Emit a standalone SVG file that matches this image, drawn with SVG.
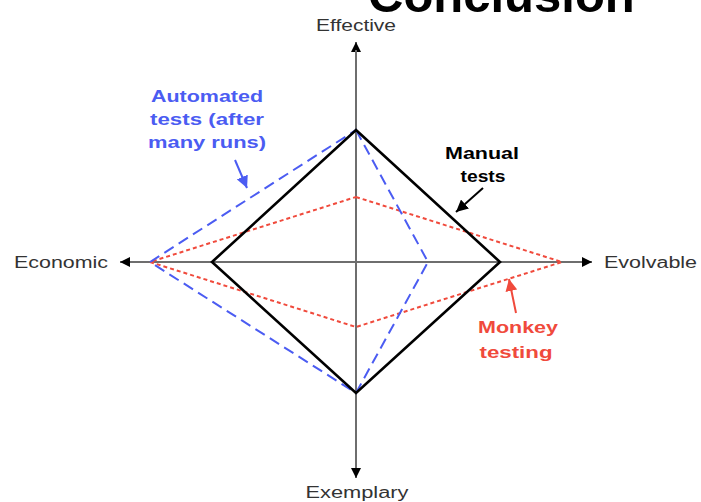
<svg xmlns="http://www.w3.org/2000/svg" width="701" height="502" viewBox="0 0 701 502">
  <defs>
    <marker id="axisHead" viewBox="0 0 10 10" refX="10" refY="5" markerWidth="11" markerHeight="10" markerUnits="userSpaceOnUse" orient="auto">
      <path d="M0,0 L10,5 L0,10 z" fill="#000"/>
    </marker>
    <marker id="blackHead" viewBox="0 0 10 10" refX="10" refY="5" markerWidth="12" markerHeight="12" markerUnits="userSpaceOnUse" orient="auto">
      <path d="M0,0 L10,5 L0,10 z" fill="#000"/>
    </marker>
    <marker id="blueHead" viewBox="0 0 10 10" refX="10" refY="5" markerWidth="12" markerHeight="12" markerUnits="userSpaceOnUse" orient="auto">
      <path d="M0,0 L10,5 L0,10 z" fill="#4b5cf2"/>
    </marker>
    <marker id="redHead" viewBox="0 0 10 10" refX="10" refY="5" markerWidth="12" markerHeight="12" markerUnits="userSpaceOnUse" orient="auto">
      <path d="M0,0 L10,5 L0,10 z" fill="#f04a3c"/>
    </marker>
  </defs>
  <style>
    .axis { stroke: #6e6e6e; stroke-width: 2; fill: none; }
    .axisLabel { font-family: "Liberation Sans", Arial, sans-serif; font-size: 16px; fill: #333; }
    .manual { stroke: #000; stroke-width: 2.6; fill: none; stroke-linejoin: miter; }
    .auto { stroke: #4b5cf2; stroke-width: 2; fill: none; stroke-dasharray: 11 6; }
    .monkey { stroke: #f04a3c; stroke-width: 2; fill: none; stroke-dasharray: 4 3; }
    .lbl { font-family: "Liberation Sans", Arial, sans-serif; font-size: 17px; font-weight: bold; text-anchor: middle; }
    .title { font-family: "Liberation Sans", Arial, sans-serif; font-size: 49px; font-weight: bold; fill: #000; }
  </style>
  <rect width="701" height="502" fill="#fff"/>

  <!-- slide heading, clipped by the top edge -->
  <text class="title" x="368" y="12">Conclusion</text>

  <!-- axes -->
  <g id="axes">
    <line class="axis" x1="356" y1="470" x2="356" y2="42" marker-end="url(#axisHead)"/>
    <line class="axis" x1="356" y1="50" x2="356" y2="478" marker-end="url(#axisHead)"/>
    <line class="axis" x1="580" y1="262" x2="120" y2="262" marker-end="url(#axisHead)"/>
    <line class="axis" x1="130" y1="262" x2="592" y2="262" marker-end="url(#axisHead)"/>
  </g>
  <g id="effective"><text class="axisLabel" x="356" y="31" text-anchor="middle" textLength="80" lengthAdjust="spacingAndGlyphs">Effective</text></g>
  <g id="economic"><text class="axisLabel" x="14" y="268" textLength="94" lengthAdjust="spacingAndGlyphs">Economic</text></g>
  <g id="evolvable"><text class="axisLabel" x="604" y="268" textLength="93" lengthAdjust="spacingAndGlyphs">Evolvable</text></g>
  <g id="exemplary"><text class="axisLabel" x="357" y="498" text-anchor="middle" textLength="103" lengthAdjust="spacingAndGlyphs">Exemplary</text></g>

  <!-- profiles -->
  <g id="monkey-profile">
    <polygon class="monkey" points="356,197 562,262 356,327 150,262"/>
  </g>
  <g id="automated-profile">
    <polygon class="auto" points="356,130 428,262 356,393 150,262"/>
  </g>
  <g id="manual-profile">
    <polygon class="manual" points="356,130 500,262 356,393 212,262"/>
  </g>

  <!-- callouts -->
  <g id="automated-label" fill="#4b5cf2">
    <text class="lbl" x="207" y="102" textLength="112" lengthAdjust="spacingAndGlyphs">Automated</text>
    <text class="lbl" x="207" y="125" textLength="114" lengthAdjust="spacingAndGlyphs">tests (after</text>
    <text class="lbl" x="207" y="148" textLength="118" lengthAdjust="spacingAndGlyphs">many runs)</text>
  </g>
  <g id="manual-label" fill="#000">
    <text class="lbl" x="482" y="159" textLength="74" lengthAdjust="spacingAndGlyphs">Manual</text>
    <text class="lbl" x="483" y="182" textLength="45" lengthAdjust="spacingAndGlyphs">tests</text>
  </g>
  <g id="monkey-label" fill="#f04a3c">
    <text class="lbl" x="518" y="333" textLength="80" lengthAdjust="spacingAndGlyphs">Monkey</text>
    <text class="lbl" x="516" y="358" textLength="73" lengthAdjust="spacingAndGlyphs">testing</text>
  </g>

  <g id="connectors">
    <line x1="235" y1="160" x2="247" y2="188" stroke="#4b5cf2" stroke-width="2" marker-end="url(#blueHead)"/>
    <line x1="483" y1="188" x2="456" y2="212" stroke="#000" stroke-width="2" marker-end="url(#blackHead)"/>
    <line x1="516" y1="313" x2="509" y2="279" stroke="#f04a3c" stroke-width="2" marker-end="url(#redHead)"/>
  </g>
</svg>
